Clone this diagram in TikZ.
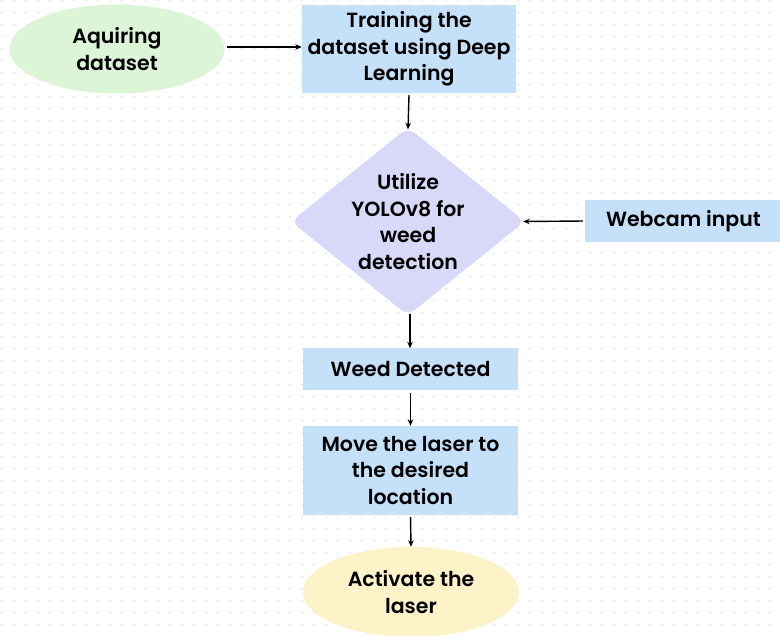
\documentclass[tikz,border=0pt]{standalone}
\usepackage{fontspec}
\newfontfamily\popfont{Poppins SemiBold}
\usetikzlibrary{shapes.geometric,arrows.meta}
\definecolor{bggreen}{RGB}{220,245,215}
\definecolor{bgblue}{RGB}{197,225,250}
\definecolor{bglav}{RGB}{216,216,248}
\definecolor{bgcream}{RGB}{253,242,200}
\definecolor{dotgray}{RGB}{222,222,222}
\tikzset{
  lbl/.style={font=\popfont\fontsize{20.5}{26.5}\selectfont, text=black, align=center, inner sep=0pt},
  bluebox/.style={lbl, fill=bgblue, draw=none},
  conn/.style={-{Stealth[length=6.5pt,width=5.5pt]}, line width=1.4pt, black},
}
\begin{document}
\begin{tikzpicture}[x=1pt,y=-1pt]
\useasboundingbox (0,0) rectangle (780,636);
\fill[white] (0,0) rectangle (780,636);
\foreach \xx in {2,14,...,770} {
  \foreach \yy in {1,13,...,633} {
    \fill[dotgray] (\xx,\yy) circle (0.8);
  }
}
% nodes
\node[lbl, ellipse, fill=bggreen, minimum width=215pt, minimum height=89pt] (acq) at (117,49) {Aquiring\\dataset};
\node[bluebox, minimum width=214pt, minimum height=88pt] (train) at (409,49) {Training the\\dataset using Deep\\Learning};
\node[diamond, fill=bglav, inner sep=0pt, rounded corners=9pt, minimum width=234pt, minimum height=188pt] (yolo) at (408,221.5) {};
\node[lbl] (yolotext) at (yolo.center) {Utilize\\YOLOv8 for\\weed\\detection};
\node[bluebox, minimum width=197pt, minimum height=42pt] (cam) at (683.5,221) {Webcam input};
\node[bluebox, minimum width=215pt, minimum height=42pt] (det) at (410.5,369.5) {Weed Detected};
\node[bluebox, minimum width=215pt, minimum height=89pt] (move) at (410.5,470.5) {Move the laser to\\the desired\\location};
\node[lbl, ellipse, fill=bgcream, minimum width=216pt, minimum height=90pt] (act) at (411,592) {Activate the\\laser};
% connectors
\draw[conn, shorten <=2pt] (acq.east) ++(0,-2) coordinate (a1) -- (a1 -| train.west);
\draw[conn] (train.south) ++(0,2) -- ([yshift=-2pt]yolo.north);
\draw[conn, shorten <=2pt] (cam.west) -- ([xshift=-2pt]yolo.east);
\draw[conn] ([xshift=2pt,yshift=2pt]yolo.south) -- ([xshift=2pt]yolo.south |- det.north);
\draw[conn, shorten <=2pt] (det.south) -- (move.north);
\draw[conn, shorten <=2pt] (move.south) -- (act.north);
\end{tikzpicture}
\end{document}
